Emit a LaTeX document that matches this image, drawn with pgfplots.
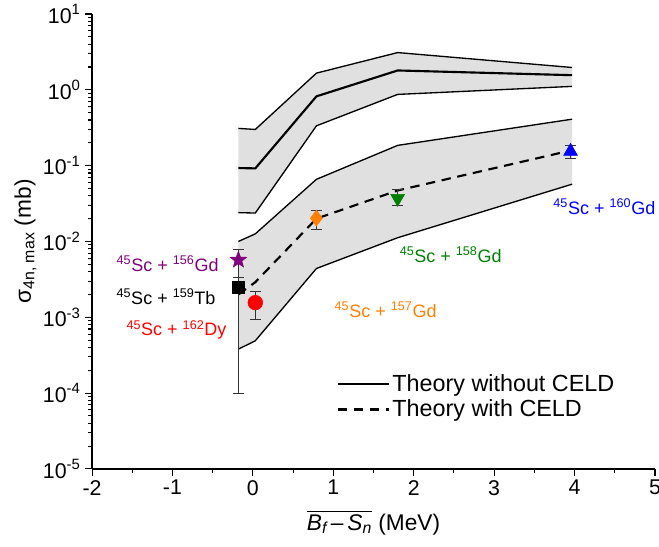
\documentclass[border=0pt]{standalone}
\usepackage{fontspec}
\setmainfont{Liberation Sans}
\usepackage{amsmath}
\usepackage{pgfplots}
\pgfplotsset{compat=1.18}
\usetikzlibrary{calc}
\definecolor{bandgray}{RGB}{224,224,224}
\definecolor{cpurple}{RGB}{128,0,128}
\definecolor{corange}{RGB}{255,128,0}
\definecolor{cgreen}{RGB}{0,128,0}
\definecolor{cblue}{RGB}{0,0,255}
\definecolor{cred}{RGB}{255,0,0}

% filled five-pointed star
\pgfdeclareplotmark{fstar}{%
  \pgfpathmoveto{\pgfpointpolar{90}{\pgfplotmarksize}}%
  \pgfpathlineto{\pgfpointpolar{126}{0.42\pgfplotmarksize}}%
  \pgfpathlineto{\pgfpointpolar{162}{\pgfplotmarksize}}%
  \pgfpathlineto{\pgfpointpolar{198}{0.42\pgfplotmarksize}}%
  \pgfpathlineto{\pgfpointpolar{234}{\pgfplotmarksize}}%
  \pgfpathlineto{\pgfpointpolar{270}{0.42\pgfplotmarksize}}%
  \pgfpathlineto{\pgfpointpolar{306}{\pgfplotmarksize}}%
  \pgfpathlineto{\pgfpointpolar{342}{0.42\pgfplotmarksize}}%
  \pgfpathlineto{\pgfpointpolar{18}{\pgfplotmarksize}}%
  \pgfpathlineto{\pgfpointpolar{54}{0.42\pgfplotmarksize}}%
  \pgfpathclose
  \pgfusepathqfillstroke}

\begin{document}
\begin{tikzpicture}
\begin{axis}[
    width=422pt, height=341pt, scale only axis,
    xmin=-2, xmax=5, ymin=1e-5, ymax=10,
    ymode=log,
    axis x line*=bottom, axis y line*=left,
    axis line style={line width=1pt, -},
    tick align=outside,
    major tick length=5pt, minor tick length=3pt,
    tick style={line width=0.8pt, black},
    xtick={-2,-1,0,1,2,3,4,5},
    xticklabels={-2,-1,0,1,2,3,4,5},
    minor x tick num=1,
    ytick={1e-5,1e-4,1e-3,1e-2,1e-1,1,10},
    yticklabels={10\textsuperscript{-5},10\textsuperscript{-4},10\textsuperscript{-3},10\textsuperscript{-2},10\textsuperscript{-1},10\textsuperscript{0},10\textsuperscript{1}},
    minor ytick={2e-5,3e-5,4e-5,5e-5,6e-5,7e-5,8e-5,9e-5,
                 2e-4,3e-4,4e-4,5e-4,6e-4,7e-4,8e-4,9e-4,
                 2e-3,3e-3,4e-3,5e-3,6e-3,7e-3,8e-3,9e-3,
                 2e-2,3e-2,4e-2,5e-2,6e-2,7e-2,8e-2,9e-2,
                 0.2,0.3,0.4,0.5,0.6,0.7,0.8,0.9,
                 2,3,4,5,6,7,8,9},
    tick label style={font=\fontsize{16}{19}\selectfont},
    xlabel={$\overline{\textit{B}_{\textit{f}}\,\text{--}\,\textit{S}_{\textit{n}}}$ (MeV)},
    ylabel={σ\textsubscript{4n, max} (mb)},
    label style={font=\fontsize{17}{20}\selectfont},
    xlabel style={at={(axis description cs:0.5,0)}, anchor=center, yshift=-40pt},
    ylabel style={at={(axis description cs:0,0.5)}, anchor=center, yshift=50pt},
    legend style={draw=none, fill=none, at={(0.94,0.22)}, anchor=north east,
        font=\fontsize{17.5}{21}\selectfont, row sep=1pt},
    legend cell align=left,
    legend image code/.code={\draw[#1] (0pt,0pt) -- (38pt,0pt);},
    error bars/error bar style={line width=0.6pt, black!80},
    error bars/error mark options={rotate=90, mark size=4pt, line width=0.6pt, black!80},
]
% upper band: theory without CELD
\addplot[fill=bandgray, draw=none, forget plot] coordinates {
    (-0.18,0.31) (0.03,0.30) (0.79,1.66) (1.80,3.1) (3.97,1.97)
    (3.97,1.11) (1.80,0.87) (0.79,0.335) (0.03,0.0237) (-0.18,0.024)};
% lower band: theory with CELD
\addplot[fill=bandgray, draw=none, forget plot] coordinates {
    (-0.18,0.0100) (0.03,0.0126) (0.79,0.066) (1.80,0.185) (3.97,0.41)
    (3.97,0.057) (1.80,0.0112) (0.79,0.0044) (0.03,4.9e-4) (-0.18,3.8e-4)};

\addplot[black, line width=1pt, forget plot] coordinates {
    (-0.18,0.31) (0.03,0.30) (0.79,1.66) (1.80,3.1) (3.97,1.97)};
\addplot[black, line width=1pt, forget plot] coordinates {
    (-0.18,0.024) (0.03,0.0237) (0.79,0.335) (1.80,0.87) (3.97,1.11)};
\addplot[black, line width=1pt, forget plot] coordinates {
    (-0.18,0.0100) (0.03,0.0126) (0.79,0.066) (1.80,0.185) (3.97,0.41)};
\addplot[black, line width=1pt, forget plot] coordinates {
    (-0.18,3.8e-4) (0.03,4.9e-4) (0.79,0.0044) (1.80,0.0112) (3.97,0.057)};

\addplot[black, line width=1.6pt] coordinates {
    (-0.18,0.093) (0.03,0.092) (0.79,0.82) (1.80,1.80) (3.97,1.56)};
\addlegendentry{Theory without CELD}
\addplot[black, line width=1.6pt, dash pattern=on 7pt off 5pt] coordinates {
    (-0.18,0.0020) (0.03,0.0029) (0.79,0.020) (1.80,0.047) (3.97,0.16)};
\addlegendentry{Theory with CELD}

% experimental points
\addplot[only marks, mark=square*, mark size=4.5pt, black, forget plot,
    error bars/.cd, y dir=both, y explicit] coordinates {
    (-0.18,0.00246) += (0,0.0009) -= (0,0.00236)};
\addplot[only marks, mark=fstar, mark size=6.5pt, cpurple, forget plot,
    error bars/.cd, y dir=both, y explicit] coordinates {
    (-0.18,0.0057) += (0,0.0022) -= (0,0.0023)};
\addplot[only marks, mark=*, mark size=5.5pt, cred, forget plot,
    error bars/.cd, y dir=both, y explicit] coordinates {
    (0.03,0.00156) += (0,0.00064) -= (0,0.00063)};
\addplot[only marks, mark=diamond*, mark size=6pt, corange, forget plot,
    error bars/.cd, y dir=both, y explicit] coordinates {
    (0.79,0.0203) += (0,0.0057) -= (0,0.0058)};
\addplot[only marks, mark=triangle*, mark options={rotate=180}, mark size=6pt, cgreen, forget plot,
    error bars/.cd, y dir=both, y explicit] coordinates {
    (1.80,0.037) += (0,0.011) -= (0,0.0075)};
\addplot[only marks, mark=triangle*, mark size=6pt, cblue, forget plot,
    error bars/.cd, y dir=both, y explicit] coordinates {
    (3.95,0.154) += (0,0.033) -= (0,0.028)};

\begin{scope}[font=\fontsize{13.5}{16}\selectfont]
\node[cpurple] at (axis cs:-1.06,0.0051) {\textsuperscript{45}Sc + \textsuperscript{156}Gd};
\node[black] at (axis cs:-1.08,0.00188) {\textsuperscript{45}Sc + \textsuperscript{159}Tb};
\node[cred] at (axis cs:-0.95,6.8e-4) {\textsuperscript{45}Sc + \textsuperscript{162}Dy};
\node[corange] at (axis cs:1.65,1.26e-3) {\textsuperscript{45}Sc + \textsuperscript{157}Gd};
\node[cgreen] at (axis cs:2.46,0.0066) {\textsuperscript{45}Sc + \textsuperscript{158}Gd};
\node[cblue] at (axis cs:4.37,0.029) {\textsuperscript{45}Sc + \textsuperscript{160}Gd};
\end{scope}

\coordinate (sw) at (rel axis cs:0,0);
\coordinate (ne) at (rel axis cs:1,1);
\end{axis}
\pgfresetboundingbox
\path ($(sw)+(-69pt,-58pt)$) rectangle ($(ne)+(3pt,10.5pt)$);
\end{tikzpicture}
\end{document}
